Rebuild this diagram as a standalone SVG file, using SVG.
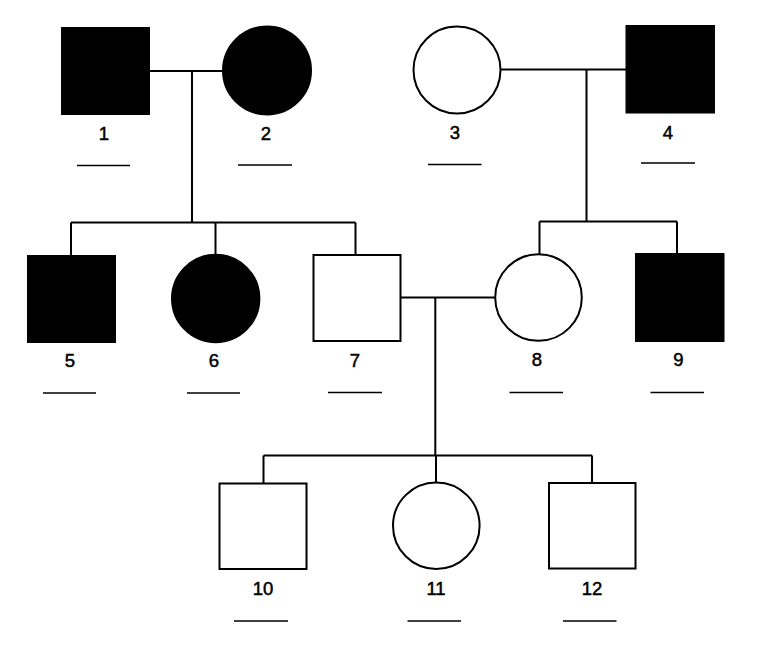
<svg xmlns="http://www.w3.org/2000/svg" width="768" height="650" viewBox="0 0 768 650">
<style>
.s{stroke:#000;stroke-width:2;}
.f{fill:#000;}
.o{fill:#fff;}
.t{font-family:"Liberation Sans",Arial,sans-serif;font-size:18.5px;text-anchor:middle;fill:#000;stroke:#000;stroke-width:0.5;}
.u{stroke:#000;stroke-width:1.6;}
.c{stroke:#000;stroke-width:2;fill:none;}
</style>
<rect width="768" height="650" fill="#fff"/>
<g id="connectors">
<path class="c" d="M149 71H223M192 71V222.5M71 222.5H355.5M71 222.5V256M215.5 222.5V255M355.5 222.5V255"/>
<path class="c" d="M500 69.5H626M586.5 69.5V221.5M539.5 221.5H677M539.5 221.5V255M677 221.5V254"/>
<path class="c" d="M400.5 297.5H495M435.3 297.5V455.5M263.5 455.5H592M263.5 455.5V483.5M436 455.5V483M592 455.5V483"/>
</g>
<g id="n1"><rect class="s f" x="62" y="28" width="87" height="86"/><text class="t" x="104" y="139.5">1</text><line class="u" x1="77" y1="165.5" x2="130" y2="165.5"/></g>
<g id="n2"><circle class="s f" cx="267" cy="70.5" r="44"/><text class="t" x="266" y="139.5">2</text><line class="u" x1="238" y1="165" x2="292" y2="165"/></g>
<g id="n3"><circle class="s o" cx="457" cy="70" r="43.5"/><text class="t" x="455" y="139">3</text><line class="u" x1="428" y1="164.5" x2="481.5" y2="164.5"/></g>
<g id="n4"><rect class="s f" x="626.5" y="26" width="87.5" height="86.5"/><text class="t" x="668" y="138.5">4</text><line class="u" x1="641" y1="163" x2="695" y2="163"/></g>
<g id="n5"><rect class="s f" x="28" y="256" width="87" height="86"/><text class="t" x="70" y="366.5">5</text><line class="u" x1="43" y1="393" x2="96" y2="393"/></g>
<g id="n6"><circle class="s f" cx="215.7" cy="298.5" r="43.7"/><text class="t" x="214" y="366.5">6</text><line class="u" x1="187" y1="393" x2="240" y2="393"/></g>
<g id="n7"><rect class="s o" x="313.5" y="255" width="87" height="86"/><text class="t" x="355" y="366.5">7</text><line class="u" x1="328" y1="392.5" x2="382" y2="392.5"/></g>
<g id="n8"><circle class="s o" cx="538.5" cy="297.5" r="43.3"/><text class="t" x="537" y="366">8</text><line class="u" x1="509.5" y1="392.5" x2="563" y2="392.5"/></g>
<g id="n9"><rect class="s f" x="636" y="254" width="87.5" height="87"/><text class="t" x="678.5" y="366">9</text><line class="u" x1="650.5" y1="392.5" x2="704" y2="392.5"/></g>
<g id="n10"><rect class="s o" x="219.5" y="483.5" width="87" height="85.5"/><text class="t" x="263" y="595">10</text><line class="u" x1="234" y1="621" x2="288" y2="621"/></g>
<g id="n11"><circle class="s o" cx="436.3" cy="525.7" r="43.3"/><text class="t" x="436" y="595">11</text><line class="u" x1="407.5" y1="621" x2="461" y2="621"/></g>
<g id="n12"><rect class="s o" x="549" y="483" width="86.5" height="85.5"/><text class="t" x="592" y="595">12</text><line class="u" x1="563" y1="621" x2="616.5" y2="621"/></g>
</svg>
